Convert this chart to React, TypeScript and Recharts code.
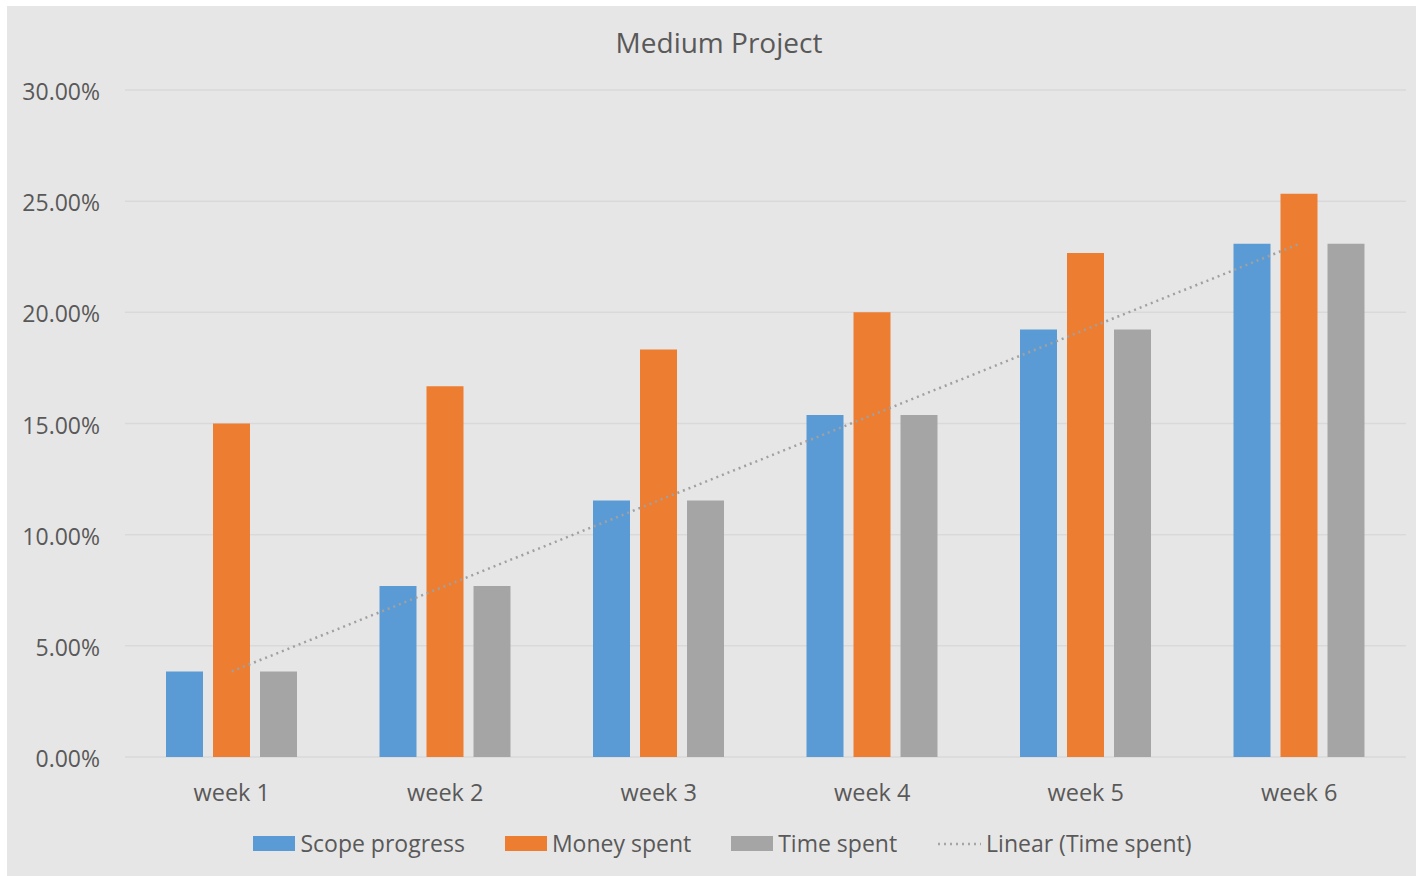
import React from 'react';
import { ComposedChart, Bar, Line, XAxis, YAxis, CartesianGrid } from 'recharts';

const BLUE = '#5B9BD5';
const ORANGE = '#ED7D31';
const GREY = '#A5A5A5';
const TEXT = '#595959';
const BG = '#E7E6E6';
const FONT = '"Open Sans", sans-serif';

const weeks = ['week 1', 'week 2', 'week 3', 'week 4', 'week 5', 'week 6'];
const scopeProgress = [3.85, 7.69, 11.54, 15.38, 19.23, 23.08];
const moneySpent = [15.0, 16.67, 18.33, 20.0, 22.67, 25.33];
const timeSpent = [3.85, 7.69, 11.54, 15.38, 19.23, 23.08];
// linear fit of time spent (time grows evenly, so the fit lands on the same points)
const timeTrend = [3.85, 7.69, 11.54, 15.38, 19.23, 23.08];
const yTicks = [0, 5, 10, 15, 20, 25, 30];

const data = weeks.map((week, i) => ({
    week,
    scope: scopeProgress[i],
    money: moneySpent[i],
    time: timeSpent[i],
    trend: timeTrend[i],
}));

const legendItems = [
    { label: 'Scope progress', color: BLUE, kind: 'box' },
    { label: 'Money spent', color: ORANGE, kind: 'box' },
    { label: 'Time spent', color: GREY, kind: 'box' },
    { label: 'Linear (Time spent)', color: GREY, kind: 'dots' },
];

function ChartLegend() {
    return (
        <div style={{ position: 'absolute', left: 22, right: 0, top: 821, display: 'flex', justifyContent: 'center', gap: 40, fontFamily: FONT, fontSize: 23, color: TEXT }}>
            {legendItems.map((item) => (
                <div key={item.label} style={{ display: 'flex', alignItems: 'center', gap: 5 }}>
                    {item.kind === 'box' ? (
                        <div style={{ width: 42, height: 15, background: item.color }} />
                    ) : (
                        <svg width={44} height={15}>
                            <line x1={1} y1={8} x2={44} y2={8} stroke={item.color} strokeWidth={2.5} strokeDasharray="2 4" />
                        </svg>
                    )}
                    <span>{item.label}</span>
                </div>
            ))}
        </div>
    );
}

function PercentTick({ x, y, payload }: any) {
    return (
        <text x={x} y={y + 2} dy="0.355em" textAnchor="end" fontSize={23} fill={TEXT} fontFamily={FONT}>
            {`${payload.value.toFixed(2)}%`}
        </text>
    );
}

export default function App() {
    return (
        <div style={{ position: 'relative', width: 1416, height: 876, background: '#fff', overflow: 'hidden' }}>
            <style>{'body{margin:0}'}</style>
            <div style={{ position: 'absolute', left: 7, top: 6, width: 1409, height: 870, background: BG }}>
                <div style={{ position: 'absolute', left: 0, width: 1424, top: 17, textAlign: 'center', fontFamily: FONT, fontSize: 28, color: TEXT }}>
                    Medium Project
                </div>
                <ComposedChart
                    width={1409}
                    height={870}
                    data={data}
                    margin={{ top: 84, right: 10, left: 0, bottom: 0 }}
                    barGap={10}
                    barSize={37}
                >
                    <CartesianGrid vertical={false} stroke="#D9D9D9" strokeWidth={1.5} />
                    <XAxis
                        dataKey="week"
                        height={119}
                        axisLine={false}
                        tickLine={false}
                        tickSize={0}
                        tickMargin={27}
                        tick={{ fontSize: 23.5, fill: TEXT, fontFamily: FONT }}
                    />
                    <YAxis
                        width={118}
                        domain={[0, 30]}
                        ticks={yTicks}
                        axisLine={false}
                        tickLine={false}
                        tickSize={0}
                        tickMargin={25}
                        tick={<PercentTick />}
                    />
                    <Bar dataKey="scope" fill={BLUE} isAnimationActive={false} />
                    <Bar dataKey="money" fill={ORANGE} isAnimationActive={false} />
                    <Bar dataKey="time" fill={GREY} isAnimationActive={false} />
                    <Line
                        dataKey="trend"
                        type="linear"
                        stroke="#A0A0A0"
                        strokeWidth={2.5}
                        strokeDasharray="2 4"
                        dot={false}
                        activeDot={false}
                        isAnimationActive={false}
                    />
                </ComposedChart>
                <ChartLegend />
            </div>
        </div>
    );
}
